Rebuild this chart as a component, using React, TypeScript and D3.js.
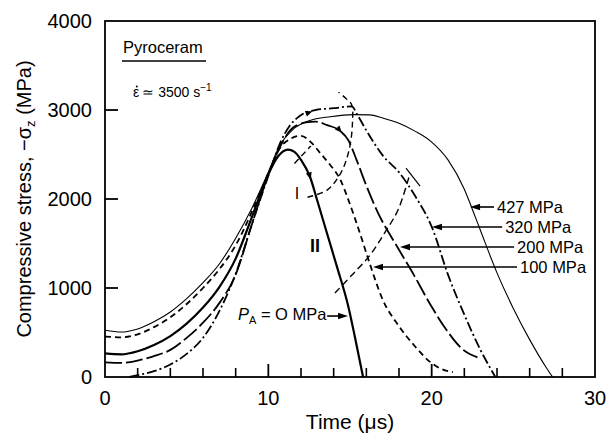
import React from 'react';
import * as d3 from 'd3';

type P = [number, number];

// ---- data (time in µs, stress in MPa) ----
const xMajorTicks = [0, 10, 20, 30];
const xMinorTicks = [2, 4, 6, 8, 12, 14, 16, 18, 22, 24, 26, 28];
const yTicks = [0, 1000, 2000, 3000, 4000];

const curve0: P[] = [[0,265],[1,255],[2,290],[3,360],[4,460],[5,600],[6,780],[7,1010],[8,1330],[9,1800],[10,2280],[10.6,2480],[11.2,2555],[11.6,2530],[12,2440],[12.55,2250],[13,1980],[13.6,1610],[14.2,1240],[14.9,790],[15.3,450],[15.8,0]];
const curve100: P[] = [[0,455],[1,445],[2,480],[3,560],[4,670],[5,820],[6,1000],[7,1210],[8,1480],[9,1860],[10,2290],[10.7,2570],[11.4,2680],[12,2710],[12.6,2640],[13.2,2510],[13.8,2380],[14.4,2220],[14.9,1990],[15.6,1620],[16.2,1280],[17,870],[18,570],[19,340],[19.9,170],[20.6,90],[21.3,55]];
const curve200: P[] = [[0,165],[1,158],[2,185],[3,235],[4,305],[5,440],[6,610],[7,830],[8,1150],[9,1720],[10,2270],[10.7,2580],[11.5,2800],[12.3,2860],[12.9,2870],[13.6,2830],[14.4,2765],[14.9,2660],[15.4,2440],[16,2150],[16.7,1850],[17.9,1460],[18.9,1150],[19.9,820],[20.9,530],[21.9,310],[22.8,220]];
const curve320: P[] = [[1.5,0],[2,20],[3,65],[4,140],[5,260],[6,440],[7,740],[8,1160],[9,1720],[10,2260],[10.7,2620],[11.3,2820],[11.9,2930],[12.9,3000],[14,3020],[15.1,3040],[15.5,2930],[16,2770],[17,2490],[18,2300],[19,2030],[20,1690],[21,1150],[22,700],[23,300],[23.9,0]];
const curve427: P[] = [[0,525],[1,505],[2,540],[3,620],[4,730],[5,880],[6,1060],[7,1270],[8,1560],[9,1900],[10,2300],[10.7,2600],[11.5,2780],[12.5,2880],[13.8,2925],[15.2,2948],[16.2,2945],[17,2910],[18,2850],[19,2760],[20,2640],[21,2440],[22,2110],[22.5,1880],[23,1640],[24,1170],[25,770],[26,420],[27,110],[27.4,0]];

const lineI: P[] = [[12.4,2020],[13.6,2100],[14.3,2250],[14.7,2400],[15.0,2600],[15.15,2850],[15.1,3060],[14.75,3130],[14.3,3200]];
const lineIa: P[] = [[11.6,2400],[12.6,2595]];
const lineII: P[] = [[14.08,944],[15.12,1146],[16.23,1371],[17.15,1629],[17.94,1876],[18.68,2292]];
const lineIITick: P[] = [[18.43,2348],[19.29,2146]];

const pressureLabels = ['427 MPa', '320 MPa', '200 MPa', '100 MPa'];
const labelTips: P[] = [[22.35,1910],[20.02,1685],[18.06,1461],[16.41,1236]];
const labelPos: P[] = [[24.0,1843],[24.5,1618],[25.23,1393],[25.41,1169]];

const paTip: P = [14.88, 685];
const paText: P = [8.14, 640];
const paLineStart = 13.6;

const dirArrows: { series: number; t: number }[] = [
  { series: 0, t: 12.6 },
  { series: 2, t: 14.5 },
  { series: 3, t: 12.7 },
];

const W = 607, H = 434;
const x = d3.scaleLinear().domain([0, 30]).range([105, 595]);
const y = d3.scaleLinear().domain([0, 4000]).range([377, 21]);

const series = [
  { data: curve0, width: 2.2, dash: undefined as string | undefined },
  { data: curve100, width: 1.8, dash: '6 4' },
  { data: curve200, width: 1.8, dash: '17 4' },
  { data: curve320, width: 1.8, dash: '10 3 2 3' },
  { data: curve427, width: 1.1, dash: undefined },
];

const FONT = 'Liberation Sans, Arial, Helvetica, sans-serif';

const mono = d3.line<P>().x(d => x(d[0])).y(d => y(d[1])).curve(d3.curveMonotoneX);
const cr = d3.line<P>().x(d => x(d[0])).y(d => y(d[1])).curve(d3.curveCatmullRom.alpha(0.5));
const straight = d3.line<P>().x(d => x(d[0])).y(d => y(d[1]));

function interp(data: P[], t: number): number {
  const i = d3.bisector((d: P) => d[0]).right(data, t);
  const a = data[Math.max(0, i - 1)], b = data[Math.min(data.length - 1, i)];
  if (a[0] === b[0]) return a[1];
  return a[1] + (b[1] - a[1]) * (t - a[0]) / (b[0] - a[0]);
}

function arrowHead(tx: number, ty: number, ang: number, len = 8, half = 3) {
  const c = Math.cos(ang), s = Math.sin(ang);
  const bx = tx - len * c, by = ty - len * s;
  return `M${tx},${ty}L${bx - half * s},${by + half * c}L${bx + half * s},${by - half * c}Z`;
}

export default function App() {
  return (
    <svg width={W} height={H} style={{ position: 'absolute', left: 0, top: 0, background: '#fff' }} fontFamily={FONT}>
      <rect width={W} height={H} fill="#fff" />
      {/* frame */}
      <rect x={x(0)} y={y(4000)} width={x(30) - x(0)} height={y(0) - y(4000)} fill="none" stroke="#000" strokeWidth={1.8} />
      {/* y ticks */}
      {yTicks.map(v => (
        <g key={'y' + v}>
          {v > 0 && v < 4000 && <line x1={x(0)} x2={x(0) + 13} y1={y(v)} y2={y(v)} stroke="#000" strokeWidth={1.8} />}
          <text x={x(0) - 13} y={y(v)} dy="0.35em" textAnchor="end" fontSize={20}>{v}</text>
        </g>
      ))}
      {/* x ticks */}
      {xMajorTicks.map(v => (
        <g key={'x' + v}>
          {v > 0 && v < 30 && <line x1={x(v)} x2={x(v)} y1={y(0)} y2={y(0) - 13} stroke="#000" strokeWidth={1.8} />}
          <text x={x(v)} y={405} textAnchor="middle" fontSize={20}>{v}</text>
        </g>
      ))}
      {xMinorTicks.map(v => (
        <line key={'xm' + v} x1={x(v)} x2={x(v)} y1={y(0)} y2={y(0) - 9} stroke="#000" strokeWidth={1.6} />
      ))}
      {/* axis titles */}
      <text x={(x(0) + x(30)) / 2} y={429} textAnchor="middle" fontSize={21}>Time (μs)</text>
      <text transform={`translate(31,${(y(0) + y(4000)) / 2}) rotate(-90)`} textAnchor="middle" fontSize={20}>
        Compressive stress, −σ<tspan fontSize={13} dy={4}>z</tspan><tspan dy={-4}> (MPa)</tspan>
      </text>
      {/* header texts */}
      <text x={123} y={53} fontSize={16.5}>Pyroceram</text>
      <line x1={122} x2={206} y1={61} y2={61} stroke="#000" strokeWidth={1.5} />
      <text x={133} y={97} fontSize={14}>ε<tspan dx={3}>≃ 3500 s</tspan><tspan fontSize={10} dy={-6}>−1</tspan></text>
      <circle cx={136.8} cy={86.5} r={1} fill="#000" />

      {/* curves */}
      {series.map((s, i) => (
        <path key={'c' + i} d={mono(s.data) || ''} fill="none" stroke="#000" strokeWidth={s.width} strokeDasharray={s.dash} />
      ))}
      {/* construction lines */}
      <path d={cr(lineI) || ''} fill="none" stroke="#000" strokeWidth={1.4} strokeDasharray="6 4" />
      <path d={straight(lineIa) || ''} fill="none" stroke="#000" strokeWidth={1.4} strokeDasharray="6 4" />
      <path d={cr(lineII) || ''} fill="none" stroke="#000" strokeWidth={1.4} strokeDasharray="7 4" />
      <path d={straight(lineIITick) || ''} fill="none" stroke="#000" strokeWidth={1.2} />
      <text x={x(11.75)} y={y(2000)} textAnchor="middle" fontSize={16}>I</text>
      <text x={x(12.85)} y={y(1400)} textAnchor="middle" fontSize={18} fontWeight="bold">II</text>

      {/* direction arrowheads on curves */}
      {dirArrows.map((a, i) => {
        const d = series[a.series].data;
        const px = x(a.t), py = y(interp(d, a.t));
        const qx = x(a.t + 0.1), qy = y(interp(d, a.t + 0.1));
        const ang = Math.atan2(qy - py, qx - px);
        return <path key={'da' + i} d={arrowHead(px, py, ang, 7, 3)} fill="#000" />;
      })}

      {/* pressure labels */}
      {pressureLabels.map((lab, i) => {
        const tip = labelTips[i], pos = labelPos[i];
        const tx = x(tip[0]), ty = y(tip[1]);
        const lx = x(pos[0]);
        return (
          <g key={'pl' + i}>
            <line x1={tx + 6} x2={lx - 3} y1={ty} y2={ty} stroke="#000" strokeWidth={1.6} />
            <path d={arrowHead(tx, ty, Math.PI, 10, 3.2)} fill="#000" />
            <text x={lx} y={y(pos[1])} fontSize={16.5}>{lab}</text>
          </g>
        );
      })}
      {/* P_A label */}
      <g>
        <text x={x(paText[0])} y={y(paText[1])} fontSize={16.5}>
          <tspan fontStyle="italic">P</tspan><tspan fontSize={11} dy={4}>A</tspan><tspan dy={-4}> = O MPa</tspan>
        </text>
        <line x1={x(paLineStart)} x2={x(paTip[0]) - 6} y1={y(paTip[1])} y2={y(paTip[1])} stroke="#000" strokeWidth={1.6} />
        <path d={arrowHead(x(paTip[0]), y(paTip[1]), 0, 10, 3.2)} fill="#000" />
      </g>
    </svg>
  );
}
